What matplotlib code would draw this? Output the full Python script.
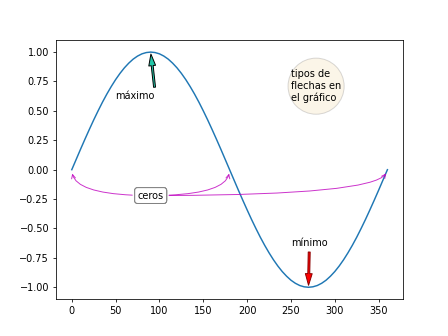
import numpy as np
import matplotlib
matplotlib.use("Agg")
import matplotlib.pyplot as plt

# angulos (grados) y valores del seno
angulos = list(range(0, 365, 5))
valores = [0.0, 0.087, 0.174, 0.259, 0.342, 0.423, 0.5, 0.574, 0.643, 0.707, 0.766, 0.819,
           0.866, 0.906, 0.94, 0.966, 0.985, 0.996, 1.0, 0.996, 0.985, 0.966, 0.94, 0.906,
           0.866, 0.819, 0.766, 0.707, 0.643, 0.574, 0.5, 0.423, 0.342, 0.259, 0.174, 0.087,
           0.0, -0.087, -0.174, -0.259, -0.342, -0.423, -0.5, -0.574, -0.643, -0.707, -0.766,
           -0.819, -0.866, -0.906, -0.94, -0.966, -0.985, -0.996, -1.0, -0.996, -0.985, -0.966,
           -0.94, -0.906, -0.866, -0.819, -0.766, -0.707, -0.643, -0.574, -0.5, -0.423, -0.342,
           -0.259, -0.174, -0.087, 0.0]

maximo = (90, 1.0)
minimo = (270, -1.0)
ceros = [(0, 0.0), (180, 0.0), (360, 0.0)]

fig, ax = plt.subplots(figsize=(6.4, 4.8), dpi=70)
ax.plot(angulos, valores)

# flecha al maximo
ax.annotate("máximo", xy=maximo, xytext=(50, 0.6),
            arrowprops=dict(facecolor="#22c7a8", edgecolor="black", shrink=0.05, width=2, headwidth=7))

# flecha al minimo
ax.annotate("mínimo", xy=minimo, xytext=(250, -0.65),
            arrowprops=dict(facecolor="red", edgecolor="darkred", shrink=0.05, width=2, headwidth=7))

# flechas curvas a los ceros
for punto in ceros:
    ax.annotate("ceros", xy=punto, xytext=(90, -0.22), ha="center", va="center",
                bbox=dict(boxstyle="round", fc="white", ec="gray"),
                arrowprops=dict(arrowstyle="->", color="m", alpha=0.8, shrinkB=4,
                                connectionstyle="angle3,angleA=0,angleB=90"))

# texto en circulo
ax.text(250, 0.71, "tipos de\nflechas en\nel gráfico", ha="left", va="center",
        bbox=dict(boxstyle="circle", fc="wheat", ec="gray", alpha=0.3))

fig.savefig("out.png")
